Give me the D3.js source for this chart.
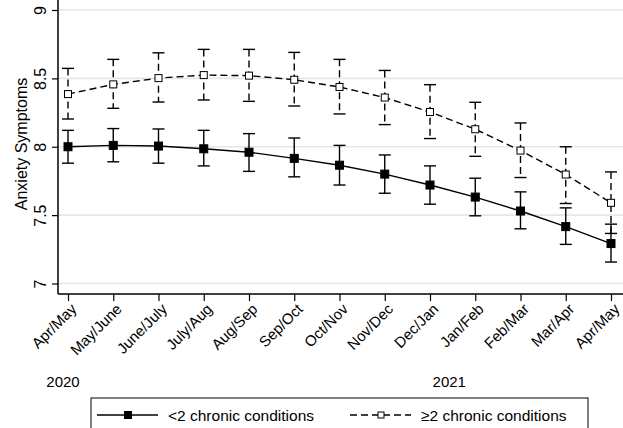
<!DOCTYPE html>
<html>
<head>
<meta charset="utf-8">
<script src="https://cdn.jsdelivr.net/npm/d3@7"></script>
<style>
  body { margin: 0; background: #fff; }
  svg { display: block; font-family: "Liberation Sans", Arial, sans-serif; }
</style>
</head>
<body>
<svg id="chart" width="623" height="428"></svg>
<script>
// survey waves
const waves = ["Apr/May", "May/June", "June/July", "July/Aug", "Aug/Sep", "Sep/Oct", "Oct/Nov",
  "Nov/Dec", "Dec/Jan", "Jan/Feb", "Feb/Mar", "Mar/Apr", "Apr/May"];
const yTicks = [7, 7.5, 8, 8.5, 9];

// <2 chronic conditions
const lowMean = [8.00, 8.01, 8.005, 7.985, 7.96, 7.915, 7.865, 7.80, 7.72, 7.632, 7.53, 7.416, 7.292];
const lowUpper = [8.12, 8.133, 8.13, 8.12, 8.096, 8.064, 8.01, 7.94, 7.86, 7.77, 7.67, 7.553, 7.434];
const lowLower = [7.88, 7.89, 7.88, 7.86, 7.82, 7.78, 7.72, 7.66, 7.58, 7.495, 7.40, 7.286, 7.157];

// >=2 chronic conditions
const highMean = [8.385, 8.456, 8.502, 8.524, 8.52, 8.49, 8.437, 8.36, 8.254, 8.128, 7.972, 7.797, 7.59];
const highUpper = [8.573, 8.639, 8.687, 8.712, 8.712, 8.69, 8.639, 8.558, 8.454, 8.325, 8.174, 8.0, 7.816];
const highLower = [8.203, 8.281, 8.327, 8.342, 8.332, 8.298, 8.24, 8.162, 8.06, 7.93, 7.775, 7.585, 7.366];

const series = [
  { name: "<2 chronic conditions", mean: lowMean, upper: lowUpper, lower: lowLower, dash: null, fill: "#000" },
  { name: "\u22652 chronic conditions", mean: highMean, upper: highUpper, lower: highLower, dash: "7,4", fill: "#fff" }
];

const svg = d3.select("#chart");
const plotLeft = 58, plotRight = 623, plotTop = 0, plotBottom = 294;

const x = d3.scalePoint().domain(d3.range(waves.length)).range([68, 611]);
const y = d3.scaleLinear().domain([7, 9]).range([283.5, 10]);

// gridlines
svg.append("g").selectAll("line")
  .data(yTicks)
  .join("line")
  .attr("x1", plotLeft).attr("x2", plotRight)
  .attr("y1", d => y(d)).attr("y2", d => y(d))
  .attr("stroke", "#e6e6e6").attr("stroke-width", 1.6);

// y axis
const yAxis = svg.append("g")
  .attr("transform", `translate(${plotLeft},0)`)
  .call(d3.axisLeft(y).tickValues(yTicks).tickSize(6).tickSizeOuter(0).tickFormat(d3.format("")));
yAxis.select(".domain").remove();
yAxis.selectAll(".tick line").attr("stroke", "#000").attr("stroke-width", 1.2);
yAxis.selectAll(".tick text")
  .attr("transform", "rotate(-90)")
  .attr("x", 0).attr("y", -12)
  .attr("dy", 0)
  .attr("text-anchor", "middle")
  .style("font-size", "16px").attr("fill", "#000");
svg.append("line")
  .attr("x1", plotLeft).attr("x2", plotLeft).attr("y1", plotTop).attr("y2", plotBottom)
  .attr("stroke", "#000").attr("stroke-width", 1.5);

// x axis
const xAxis = svg.append("g")
  .attr("transform", `translate(0,${plotBottom})`)
  .call(d3.axisBottom(x).tickSize(7).tickSizeOuter(0).tickFormat(i => waves[i]));
xAxis.select(".domain").remove();
xAxis.selectAll(".tick line").attr("stroke", "#000").attr("stroke-width", 1.2);
xAxis.selectAll(".tick text")
  .attr("transform", "rotate(-45)")
  .attr("x", -5).attr("y", 7).attr("dy", "0.71em")
  .attr("text-anchor", "end")
  .style("font-size", "15px").attr("fill", "#000");
svg.append("line")
  .attr("x1", plotLeft).attr("x2", plotRight).attr("y1", plotBottom).attr("y2", plotBottom)
  .attr("stroke", "#000").attr("stroke-width", 1.5);

// y title
svg.append("text")
  .attr("transform", "translate(27,144) rotate(-90)")
  .attr("text-anchor", "middle")
  .style("font-size", "16px")
  .text("Anxiety Symptoms");

// year labels
svg.append("text").attr("x", x(0) - 5).attr("y", 387).attr("text-anchor", "middle")
  .style("font-size", "15px").text("2020");
svg.append("text").attr("x", x(9) - 26).attr("y", 387).attr("text-anchor", "middle")
  .style("font-size", "15px").text("2021");

// series
const line = d3.line().x((d, i) => x(i)).y(d => y(d));
const cap = 6;

series.forEach(s => {
  const g = svg.append("g");
  g.append("path")
    .datum(s.mean)
    .attr("d", line)
    .attr("fill", "none").attr("stroke", "#000").attr("stroke-width", 1.4)
    .attr("stroke-dasharray", s.dash);

  const eb = g.selectAll("g.eb")
    .data(s.mean.map((m, i) => ({ i, lo: s.lower[i], hi: s.upper[i] })))
    .join("g").attr("class", "eb");
  eb.append("line")
    .attr("x1", d => x(d.i)).attr("x2", d => x(d.i))
    .attr("y1", d => y(d.hi)).attr("y2", d => y(d.lo))
    .attr("stroke", "#000").attr("stroke-width", 1.4)
    .attr("stroke-dasharray", s.dash);
  ["hi", "lo"].forEach(k => {
    eb.append("line")
      .attr("x1", d => x(d.i) - cap).attr("x2", d => x(d.i) + cap)
      .attr("y1", d => y(d[k])).attr("y2", d => y(d[k]))
      .attr("stroke", "#000").attr("stroke-width", 1.4);
  });

  const sz = s.fill === "#000" ? 8 : 7;
  g.selectAll("rect")
    .data(s.mean)
    .join("rect")
    .attr("x", (d, i) => x(i) - sz / 2).attr("y", d => y(d) - sz / 2)
    .attr("width", sz).attr("height", sz)
    .attr("fill", s.fill).attr("stroke", "#000").attr("stroke-width", 1);
});

// legend
const legend = svg.append("g");
legend.append("rect")
  .attr("x", 91).attr("y", 398).attr("width", 497).attr("height", 40)
  .attr("fill", "#fff").attr("stroke", "#000").attr("stroke-width", 1);
const legendX = [97, 350];
series.forEach((s, i) => {
  const lx = legendX[i];
  legend.append("line")
    .attr("x1", lx).attr("x2", lx + 61).attr("y1", 415).attr("y2", 415)
    .attr("stroke", "#000").attr("stroke-width", 1.4).attr("stroke-dasharray", s.dash);
  const sz = s.fill === "#000" ? 7 : 6;
  legend.append("rect")
    .attr("x", lx + 31 - sz / 2).attr("y", 415 - sz / 2).attr("width", sz).attr("height", sz)
    .attr("fill", s.fill).attr("stroke", "#000").attr("stroke-width", 1);
  legend.append("text")
    .attr("x", lx + 71).attr("y", 421)
    .style("font-size", "15.5px")
    .text(s.name);
});
</script>
</body>
</html>
